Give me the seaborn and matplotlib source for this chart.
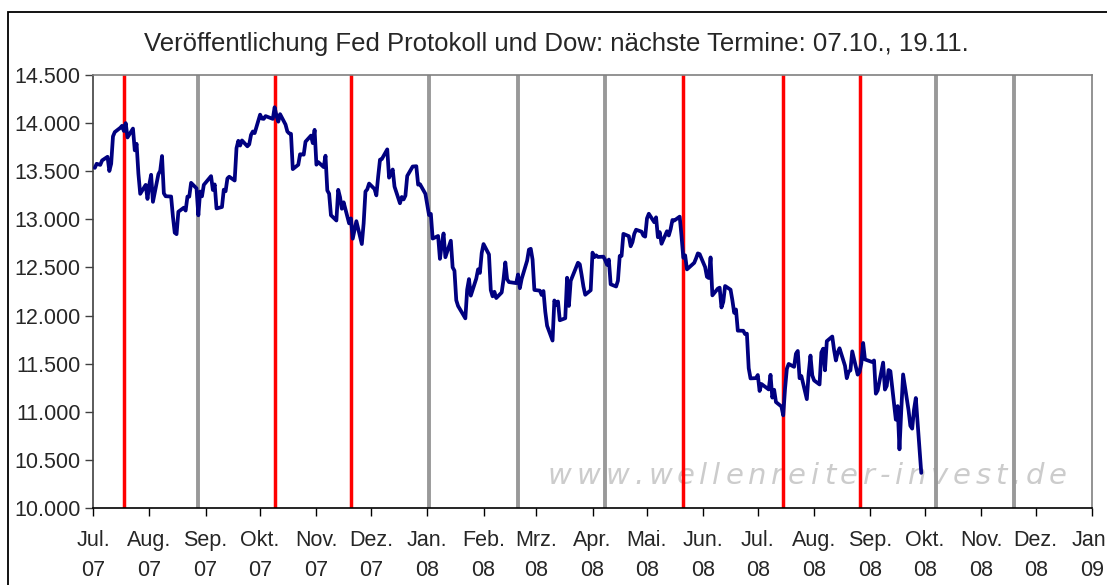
import pandas as pd
import matplotlib.pyplot as plt
import matplotlib.ticker as mticker
from matplotlib.patches import Rectangle
import seaborn as sns

# Dow Jones closes, one list per month
dow_2007_07 = [13535, 13577, 13566, 13612, 13650, 13502, 13578, 13862, 13907, 13951, 13972,
               13918, 14000, 13851, 13943, 13717, 13785, 13474, 13265, 13358, 13212]
dow_2007_08 = [13362, 13463, 13182, 13469, 13504, 13658, 13271, 13240, 13237, 13029, 12861,
               12846, 13079, 13121, 13091, 13236, 13236, 13379, 13322, 13042, 13289, 13239, 13358]
dow_2007_09 = [13449, 13305, 13363, 13113, 13128, 13308, 13292, 13425, 13443, 13403, 13739,
               13816, 13767, 13820, 13759, 13779, 13878, 13913, 13896]
dow_2007_10 = [14088, 14047, 14044, 14073, 14066, 14044, 14165, 14079, 14015, 14093, 13985,
               13913, 13893, 13889, 13522, 13567, 13676, 13675, 13672, 13807, 13870, 13792, 13930]
dow_2007_11 = [13568, 13595, 13543, 13661, 13300, 13266, 13043, 12988, 13307, 13231, 13110,
               13177, 12958, 13010, 12799, 12981, 12743, 12958, 13289, 13312, 13372]
dow_2007_12 = [13315, 13249, 13445, 13620, 13626, 13727, 13433, 13474, 13518, 13340, 13167,
               13232, 13207, 13246, 13451, 13549, 13552, 13360, 13366, 13265]
dow_2008_01 = [13044, 13057, 12800, 12827, 12589, 12735, 12853, 12606, 12778, 12501, 12466,
               12159, 12099, 11971, 12270, 12379, 12207, 12384, 12480, 12443, 12650]
dow_2008_02 = [12743, 12635, 12265, 12200, 12247, 12182, 12240, 12373, 12552, 12377, 12348,
               12337, 12427, 12284, 12381, 12570, 12685, 12694, 12582, 12266]
dow_2008_03 = [12259, 12214, 12255, 12040, 11894, 11740, 12157, 12110, 12146, 11951, 11972,
               12393, 12100, 12361, 12549, 12533, 12423, 12302, 12216, 12263]
dow_2008_04 = [12654, 12606, 12626, 12609, 12612, 12576, 12527, 12582, 12325, 12302, 12362,
               12619, 12620, 12849, 12825, 12720, 12763, 12849, 12892, 12872, 12831, 12820]
dow_2008_05 = [13010, 13058, 12970, 13021, 12814, 12867, 12746, 12876, 12832, 12898, 12993,
               12987, 13028, 12829, 12601, 12626, 12480, 12548, 12594, 12646, 12638]
dow_2008_06 = [12504, 12403, 12390, 12604, 12210, 12280, 12290, 12084, 12142, 12307, 12269,
               12160, 12029, 12063, 11843, 11842, 11807, 11812, 11453, 11347, 11350]
dow_2008_07 = [11382, 11216, 11289, 11232, 11384, 11147, 11229, 11101, 11055, 10963, 11239,
               11447, 11497, 11467, 11603, 11632, 11349, 11371, 11131, 11398, 11584, 11378]
dow_2008_08 = [11326, 11284, 11616, 11656, 11431, 11734, 11782, 11642, 11533, 11616, 11660,
               11479, 11349, 11417, 11430, 11628, 11386, 11413, 11503, 11715, 11544]
dow_2008_09 = [11517, 11533, 11188, 11221, 11511, 11231, 11269, 11434, 11422, 10918, 11059,
               10610, 11020, 11388, 11016, 10854, 10825, 11022, 11143, 10365]

market_holidays = ['2007-07-04', '2007-09-03', '2007-11-22', '2007-12-25', '2008-01-01',
                   '2008-01-21', '2008-02-18', '2008-03-21', '2008-05-26', '2008-07-04',
                   '2008-09-01']

# Fed minutes release dates
minutes_red = ['2007-07-18', '2007-10-09', '2007-11-20', '2008-05-21', '2008-07-15', '2008-08-26']
minutes_gray = ['2007-08-28', '2008-01-02', '2008-02-20', '2008-04-08', '2008-10-07', '2008-11-19']

month_names = ['Jul.', 'Aug.', 'Sep.', 'Okt.', 'Nov.', 'Dez.', 'Jan.', 'Feb.', 'Mrz.', 'Apr.',
               'Mai.', 'Jun.', 'Jul.', 'Aug.', 'Sep.', 'Okt.', 'Nov.', 'Dez.', 'Jan.']
month_years = ['07'] * 6 + ['08'] * 12 + ['09']

title = 'Veröffentlichung Fed Protokoll und Dow: nächste Termine: 07.10., 19.11.'
watermark = 'www.wellenreiter-invest.de'

values = (dow_2007_07 + dow_2007_08 + dow_2007_09 + dow_2007_10 + dow_2007_11 + dow_2007_12
          + dow_2008_01 + dow_2008_02 + dow_2008_03 + dow_2008_04 + dow_2008_05 + dow_2008_06
          + dow_2008_07 + dow_2008_08 + dow_2008_09)
dates = pd.bdate_range('2007-07-01', '2008-09-29', freq='C', holidays=market_holidays)
df = pd.DataFrame({'date': dates, 'dow': values})

sns.set_style('white')
plt.rcParams['font.family'] = ['Liberation Sans', 'DejaVu Sans']

W, H = 1107, 585
fig = plt.figure(figsize=(W / 100, H / 100), dpi=100)
ax = fig.add_axes([93 / W, 1 - 508 / H, 999 / W, 433 / H])

for d in minutes_gray:
    ax.axvline(pd.Timestamp(d), color='#999999', lw=2.8, zorder=2)
for d in minutes_red:
    ax.axvline(pd.Timestamp(d), color='#ff0000', lw=2.5, zorder=2)

sns.lineplot(data=df, x='date', y='dow', color='#000080', linewidth=2.7,
             estimator=None, ax=ax, zorder=3)

ax.set_xlim(pd.Timestamp('2007-07-01'), pd.Timestamp('2009-01-01'))
ax.set_ylim(10000, 14500)
ax.yaxis.set_major_locator(mticker.MultipleLocator(500))
ax.yaxis.set_major_formatter(mticker.FuncFormatter(lambda v, p: f'{int(v):,}'.replace(',', '.')))

month_ticks = pd.date_range('2007-07-01', '2009-01-01', freq='MS')
ax.set_xticks(month_ticks)
ax.set_xticklabels([f'{m}\n{y}' for m, y in zip(month_names, month_years)], linespacing=1.55)
ax.set_xlabel('')
ax.set_ylabel('')

ax.tick_params(axis='y', left=True, direction='out', length=6, width=1, color='#404040',
               labelsize=15.5, pad=3)
ax.tick_params(axis='x', bottom=True, direction='out', length=6, width=1, color='#000000',
               labelsize=15.5, pad=10)

ax.spines['top'].set_color('#808080')
ax.spines['right'].set_color('#808080')
ax.spines['left'].set_color('#404040')
ax.spines['bottom'].set_color('#000000')
for s in ax.spines.values():
    s.set_linewidth(1.2)

fig.text(0.503, 1 - 44 / H, title, ha='center', va='center', fontsize=18.5)

# watermark with wide letter spacing
renderer = fig.canvas.get_renderer()
chars = []
for ch in watermark:
    t = ax.text(0, 0, ch, transform=fig.transFigure, fontsize=21, style='italic',
                family='DejaVu Sans', color='#cccccc', va='baseline', ha='left', zorder=1)
    chars.append((t, t.get_window_extent(renderer).width))
total = sum(w for _, w in chars)
gap = (519 - total) / (len(chars) - 1)
x = 548
for t, w in chars:
    t.set_position((x / W, 1 - 484 / H))
    x += w + gap

fig.patches.append(Rectangle((8 / W, -0.1), 1.2, 1 - 12 / H + 0.1, fill=False,
                             edgecolor='black', lw=1.3, transform=fig.transFigure))

fig.savefig('out.png', dpi=100)
